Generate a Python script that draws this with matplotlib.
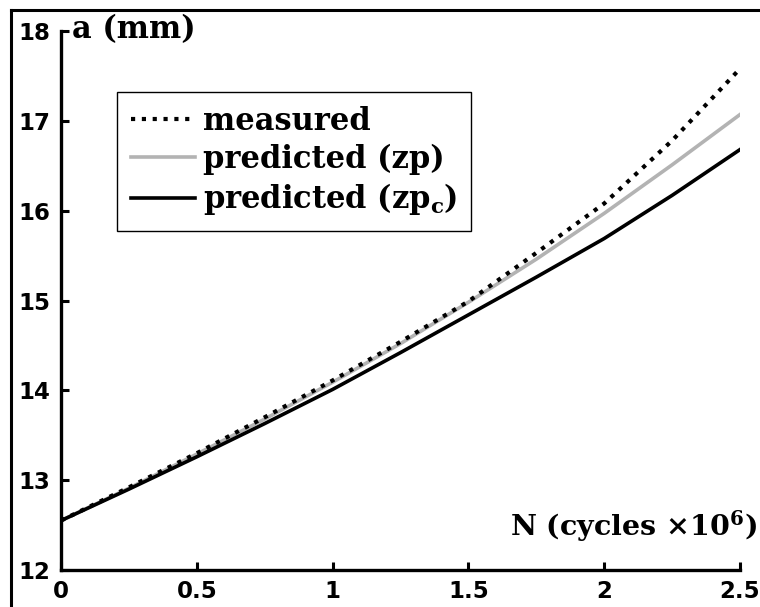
import matplotlib
matplotlib.use("Agg")
import matplotlib.pyplot as plt
from matplotlib.lines import Line2D

plt.rcParams['mathtext.fontset'] = 'dejavuserif'

# Data
N = [0.0, 0.25, 0.5, 0.75, 1.0, 1.25, 1.5, 1.75, 2.0, 2.25, 2.5]
measured = [12.55, 12.92, 13.30, 13.70, 14.11, 14.54, 14.99, 15.53, 16.08, 16.78, 17.58]
predicted_zp = [12.55, 12.91, 13.29, 13.68, 14.09, 14.52, 14.98, 15.46, 15.97, 16.51, 17.07]
predicted_zpc = [12.55, 12.90, 13.26, 13.63, 14.01, 14.42, 14.84, 15.26, 15.69, 16.17, 16.68]

xticks = [0, 0.5, 1, 1.5, 2, 2.5]
xticklabels = ["0", "0.5", "1", "1.5", "2", "2.5"]
yticks = [12, 13, 14, 15, 16, 17, 18]
yticklabels = ["12", "13", "14", "15", "16", "17", "18"]

W, H = 760, 607
fig = plt.figure(figsize=(W / 100, H / 100), dpi=100)
ax = fig.add_axes([61 / W, 1 - 570 / H, (740 - 61) / W, (570 - 31) / H])

ax.plot(N, predicted_zp, color="#b3b3b3", lw=2.6, label="predicted (zp)", zorder=2)
ax.plot(N, predicted_zpc, color="black", lw=2.6, label=r"predicted (zp$_\mathbf{c}$)", zorder=3)
ax.plot(N, measured, color="black", lw=3.0, linestyle=(0, (1, 1.6)),
        label="measured", zorder=4)

ax.set_xlim(0, 2.5)
ax.set_ylim(12, 18)
ax.set_xticks(xticks)
ax.set_xticklabels(xticklabels)
ax.set_yticks(yticks)
ax.set_yticklabels(yticklabels)

for s in ["top", "right"]:
    ax.spines[s].set_visible(False)
for s in ["left", "bottom"]:
    ax.spines[s].set_linewidth(2.4)
ax.tick_params(direction="in", length=6, width=2.2, pad=7)
ax.tick_params(axis="y", pad=8)
for lab in ax.get_xticklabels() + ax.get_yticklabels():
    lab.set_fontfamily("DejaVu Sans")
    lab.set_fontweight("bold")
    lab.set_fontsize(16.5)

# axis titles
fig.text(72 / W, 1 - 38 / H, "a (mm)", fontfamily="DejaVu Serif", fontweight="bold",
         fontsize=22, ha="left", va="baseline")
fig.text(757 / W, 1 - 536 / H, r"N (cycles ×10$^\mathbf{6}$)", fontfamily="DejaVu Serif",
         fontweight="bold", fontsize=20.5, ha="right", va="baseline")

handles, labels = ax.get_legend_handles_labels()
order = [2, 0, 1]
leg = ax.legend([handles[i] for i in order], [labels[i] for i in order],
                loc="upper left", bbox_to_anchor=(117 / W, 1 - 92 / H),
                bbox_transform=fig.transFigure,
                prop={"family": "DejaVu Serif", "weight": "bold", "size": 22},
                frameon=True, fancybox=False, edgecolor="black", framealpha=1,
                handlelength=2.1, handletextpad=0.25, labelspacing=0.22,
                borderpad=0.45, borderaxespad=0)
leg.get_frame().set_linewidth(1.0)

# figure frame (top and left edges visible)
fig.add_artist(Line2D([11 / W, 1], [1 - 10 / H, 1 - 10 / H], color="black", lw=2.2,
                      transform=fig.transFigure))
fig.add_artist(Line2D([11 / W, 11 / W], [0, 1 - 10 / H], color="black", lw=2.2,
                      transform=fig.transFigure))

fig.savefig("out.png", dpi=100)
